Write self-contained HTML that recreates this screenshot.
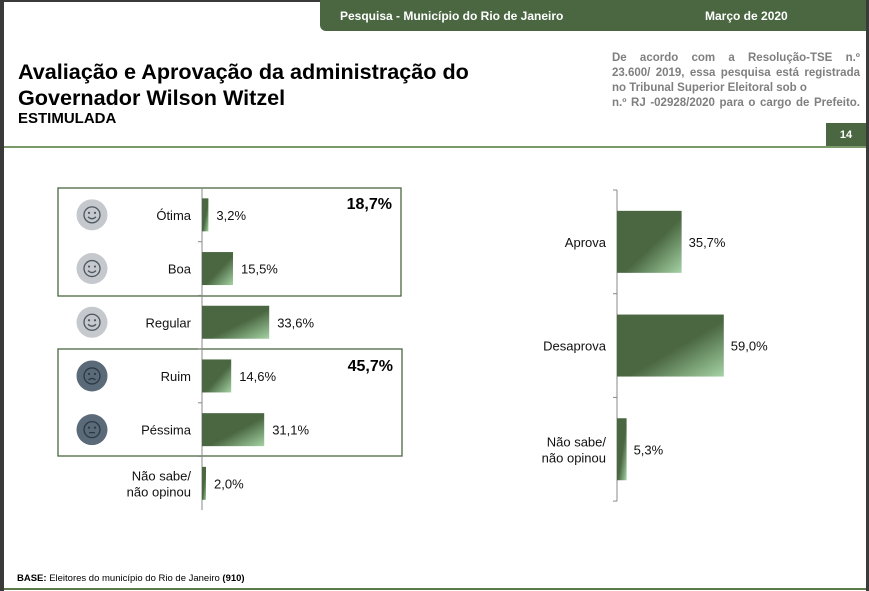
<!DOCTYPE html>
<html><head><meta charset="utf-8">
<style>
body{margin:0;width:869px;height:591px;background:#3a3a3a;position:relative;overflow:hidden;font-family:"Liberation Sans",sans-serif;}
#page{position:absolute;left:4px;top:2px;width:862px;height:589px;background:#fff;}
.abs{position:absolute;}
.jl{text-align:justify;text-align-last:justify;}
</style></head>
<body>
<div id="page"></div>
<div class="abs" style="left:320px;top:0;width:546px;height:31px;background:#4a6741;border-bottom-left-radius:6px;"></div>
<div class="abs" style="left:340px;top:9px;color:#fff;font-size:12px;font-weight:bold;">Pesquisa - Município do Rio de Janeiro</div>
<div class="abs" style="left:705px;top:9px;color:#fff;font-size:12px;font-weight:bold;">Março de 2020</div>
<div class="abs" style="left:18px;top:59px;font-size:21.6px;font-weight:bold;line-height:26px;color:#000;">Avaliação e Aprovação da administração do<br>Governador Wilson Witzel</div>
<div class="abs" style="left:18px;top:110px;font-size:15px;font-weight:bold;color:#000;">ESTIMULADA</div>
<div class="abs" style="left:612px;top:51px;width:248px;font-size:11.5px;font-weight:bold;color:#7f7f7f;line-height:15px;">
<div class="jl">De acordo com a Resolução-TSE n.º</div>
<div class="jl">23.600/ 2019, essa pesquisa está registrada</div>
<div>no Tribunal Superior Eleitoral sob o</div>
<div class="jl">n.º RJ -02928/2020 para o cargo de Prefeito.</div>
</div>
<div class="abs" style="left:826px;top:123px;width:40px;height:24px;background:#4a6741;color:#fff;font-size:11px;font-weight:bold;text-align:center;line-height:24px;">14</div>
<div class="abs" style="left:4px;top:146px;width:862px;height:2px;background:#7a9a6a;"></div>
<div class="abs" style="left:17px;top:573px;font-size:9.5px;color:#000;"><b>BASE:</b> Eleitores do município do Rio de Janeiro <b>(910)</b></div>
<div class="abs" style="left:4px;top:588px;width:862px;height:2px;background:#5a7a4a;"></div>
<svg class="abs" style="left:0;top:0" width="869" height="591" id="chart">
<defs><linearGradient id="g" x1="0" y1="0" x2="1" y2="1">
<stop offset="0.55" stop-color="#4a6741"/><stop offset="1" stop-color="#a5d3a5"/></linearGradient></defs>
</svg>
<script>
const leftCats=["Ótima","Boa","Regular","Ruim","Péssima","Não sabe/|não opinou"];
const leftVals=[3.2,15.5,33.6,14.6,31.1,2.0];
const leftLabels=["3,2%","15,5%","33,6%","14,6%","31,1%","2,0%"];
const groupTotals=["18,7%","45,7%"];
const rightCats=["Aprova","Desaprova","Não sabe/|não opinou"];
const rightVals=[35.7,59.0,5.3];
const rightLabels=["35,7%","59,0%","5,3%"];

const svg=document.getElementById('chart');
const NS='http://www.w3.org/2000/svg';
function mk(tag,attrs){const e=document.createElementNS(NS,tag);for(const k in attrs)e.setAttribute(k,attrs[k]);svg.appendChild(e);return e;}
function txt(x,y,s,anchor,size,weight,fill){const e=mk('text',{x:x,y:y,'text-anchor':anchor,'font-size':size,'font-weight':weight||'normal',fill:fill||'#111','font-family':'Liberation Sans, sans-serif'});e.textContent=s;return e;}

const lx0=202, lScale=2.0, lTop=188, lStep=53.7, lBarH=33;
const lxs=v=>lx0+v*lScale;
const lyc=i=>lTop+lStep*(i+0.5);
let b=mk('rect',{x:58,y:188,width:343,height:108,fill:'none',stroke:'#4a6741','stroke-width':1.3});

b=mk('rect',{x:58,y:349,width:344,height:107,fill:'none',stroke:'#4a6741','stroke-width':1.3});

let t=txt(392,209,groupTotals[0],'end',16,'bold','#000');
t=txt(393,371,groupTotals[1],'end',16,'bold','#000');
let ax=mk('line',{x1:lx0,y1:lTop,x2:lx0,y2:510,stroke:'#888','stroke-width':1});

const faces=['heart','grin','smile','frown','flat'];
leftCats.forEach((c,i)=>{
  const y=lyc(i);
  const r=mk('rect',{x:lx0,y:y-lBarH/2,width:lxs(leftVals[i])-lx0,height:lBarH,fill:'url(#g)'});
  
  const vt=txt(lxs(leftVals[i])+8,y+5,leftLabels[i],'start',13);
  
  const parts=c.split('|');
  parts.forEach((p,k)=>{const ct=txt(191,y+5+(k-(parts.length-1)/2)*16,p,'end',13);
    });
  if(i<5){
    const dark=i>=3;
    const col=dark?'#5a6a78':'#c5c8cc', fg=dark?'#2c3a44':'#4c5660';
    const cx=92,cy=y;
    const ic=mk('circle',{cx:cx,cy:cy,r:15.5,fill:col});
    
    mk('circle',{cx:cx,cy:cy,r:8,fill:'none',stroke:fg,'stroke-width':1.3});
    mk('circle',{cx:cx-3,cy:cy-2,r:1.1,fill:fg});mk('circle',{cx:cx+3,cy:cy-2,r:1.1,fill:fg});
    let m;
    if(faces[i]=='frown')m=`M${cx-3.5} ${cy+4} Q${cx} ${cy+1} ${cx+3.5} ${cy+4}`;
    else if(faces[i]=='flat')m=`M${cx-3} ${cy+3} L${cx+3} ${cy+3}`;
    else m=`M${cx-4} ${cy+2} Q${cx} ${cy+6} ${cx+4} ${cy+2}`;
    mk('path',{d:m,fill:'none',stroke:fg,'stroke-width':1.3});
  }
  if(i>0){mk('line',{x1:lx0-4,y1:lTop+lStep*i,x2:lx0,y2:lTop+lStep*i,stroke:'#888'});}
});

const rx0=617, rScale=1.81, rTop=190, rStep=103.7, rBarH=62;
const rxs=v=>rx0+v*rScale;
const ryc=i=>rTop+rStep*(i+0.5);
ax=mk('line',{x1:rx0,y1:rTop,x2:rx0,y2:rTop+rStep*3,stroke:'#888','stroke-width':1});

for(let k=0;k<=3;k++)mk('line',{x1:rx0-4,y1:rTop+rStep*k,x2:rx0,y2:rTop+rStep*k,stroke:'#888'});
rightCats.forEach((c,i)=>{
  const y=ryc(i);
  const r=mk('rect',{x:rx0,y:y-rBarH/2,width:rxs(rightVals[i])-rx0,height:rBarH,fill:'url(#g)'});
  
  const vt=txt(rxs(rightVals[i])+7,y+5,rightLabels[i],'start',13);
  
  const parts=c.split('|');
  parts.forEach((p,k)=>{const ct=txt(606,y+5+(k-(parts.length-1)/2)*16,p,'end',13);
    });
});
</script>
</body></html>
